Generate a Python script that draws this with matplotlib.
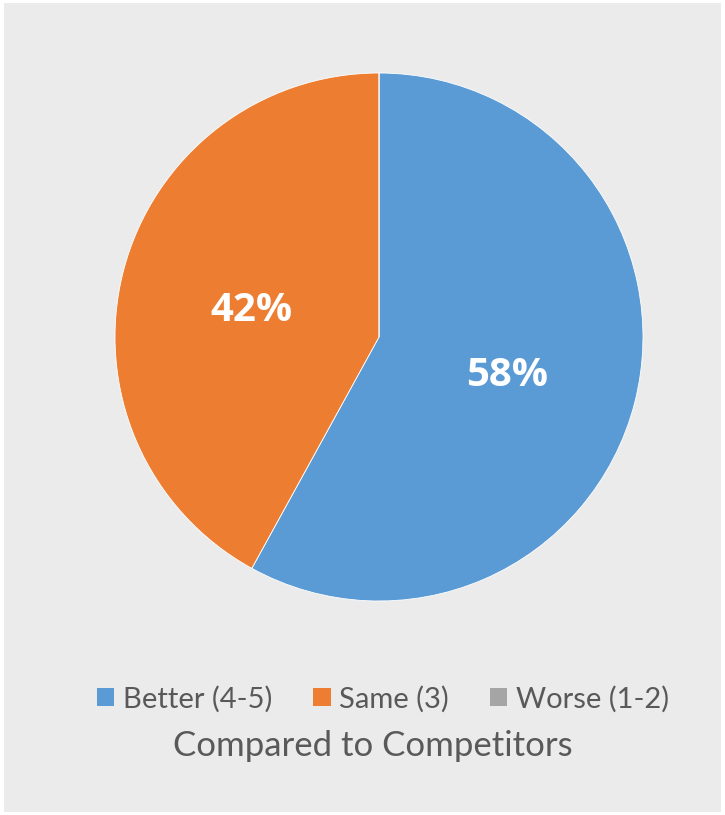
import matplotlib
matplotlib.use("Agg")
import matplotlib.pyplot as plt
from matplotlib.patches import Rectangle, Patch

categories = ["Better (4-5)", "Same (3)", "Worse (1-2)"]
values = [58, 42, 0]
colors = ["#5B9BD5", "#ED7D31", "#A5A5A5"]
title = "Compared to Competitors"

W, H = 725, 815
fig = plt.figure(figsize=(W / 100, H / 100), dpi=100, facecolor="white")
fig.patches.append(Rectangle((4 / W, 3 / H), (721 - 4) / W, (812 - 3) / H,
                             transform=fig.transFigure, facecolor="#EBEBEB",
                             edgecolor="none", zorder=-10))

cx, cy, r = 379, 337, 264
ax = fig.add_axes([(cx - r) / W, (H - cy - r) / H, 2 * r / W, 2 * r / H])
ax.set_facecolor("none")

def fmt(p):
    return f"{p:.0f}%" if p > 0.5 else ""

wedges, texts, autotexts = ax.pie(values, colors=colors, startangle=90, counterclock=False,
                                  autopct=fmt, pctdistance=0.5, radius=1,
                                  wedgeprops=dict(linewidth=0.6, edgecolor="white"),
                                  textprops=dict(color="white", fontsize=29, fontweight="bold",
                                                 family="Open Sans"))
for t in autotexts:
    x, y = t.get_position()
    t.set_position((x, y - 6 / r))
ax.set_xlim(-1, 1)
ax.set_ylim(-1, 1)
ax.set_aspect("equal")
ax.axis("off")

handles = [Patch(facecolor=c, edgecolor="none") for c in colors]
leg = fig.legend(handles, categories, loc="center", bbox_to_anchor=(383 / W, 1 - 699 / H),
                 ncol=3, frameon=False, handlelength=0.6, handleheight=0.6,
                 columnspacing=1.4, handletextpad=0.3,
                 prop=dict(family="Lato", size=21))
for t in leg.get_texts():
    t.set_color("#595959")

fig.text(373 / W, 1 - 746 / H, title, ha="center", va="center", color="#595959",
         fontsize=25, family="Lato")

fig.savefig("out.png", dpi=100, facecolor="white")
